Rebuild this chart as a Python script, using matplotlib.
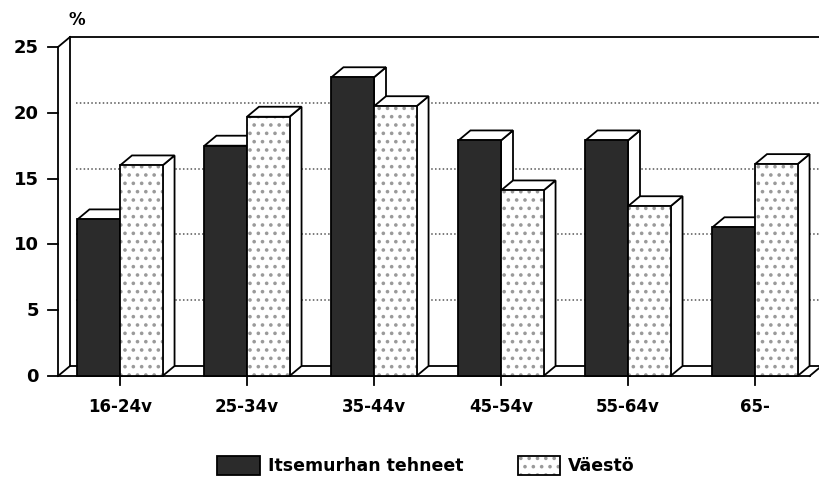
import numpy as np
import matplotlib.pyplot as plt
from matplotlib.patches import Polygon, Rectangle

plt.rcParams['font.family'] = ['DejaVu Sans']
plt.rcParams['font.weight'] = 'bold'
plt.rcParams['hatch.linewidth'] = 1.4

categories = ['16-24v', '25-34v', '35-44v', '45-54v', '55-64v', '65-']
itsemurhan = [11.9, 17.5, 22.7, 17.9, 17.9, 11.3]
vaesto = [16.0, 19.7, 20.5, 14.1, 12.9, 16.1]
yticks = [0, 5, 10, 15, 20, 25]
series_names = ['Itsemurhan tehneet', 'Väestö']

DARK = '#2b2b2b'
DOTS = '#9a9a9a'
bar_w = 0.335
dx, dy = 0.0945, 0.76       # oblique depth offset
lw = 1.3


def face(ax, pts, fc, z, hatch=None):
    if hatch:
        ax.add_patch(Polygon(pts, closed=True, facecolor='white', edgecolor=DOTS,
                             linewidth=0, hatch=hatch, zorder=z))
        ax.add_patch(Polygon(pts, closed=True, fill=False, edgecolor='black',
                             linewidth=lw, zorder=z + 0.01))
    else:
        ax.add_patch(Polygon(pts, closed=True, facecolor=fc, edgecolor='black',
                             linewidth=lw, zorder=z))


def bar3d(ax, x0, h, fc, z, hatch=None):
    x1 = x0 + bar_w
    side = [(x1, 0), (x1, h), (x1 + dx, h + dy), (x1 + dx, dy)]
    top = [(x0, h), (x0 + dx, h + dy), (x1 + dx, h + dy), (x1, h)]
    front = [(x0, 0), (x0, h), (x1, h), (x1, 0)]
    face(ax, side, 'white', z)
    face(ax, top, 'white', z + 0.02)
    face(ax, front, fc, z + 0.04, hatch)


fig = plt.figure(figsize=(8.2, 4.85), dpi=100)
ax = fig.add_axes([0, 0, 1, 1])
ax.set_xlim(-120 / 127, 700 / 127)
ax.set_ylim(-108 / 13.16, 377 / 13.16)
ax.axis('off')

xl, xr = -0.488, 5.43          # front axis and floor end
ymax = yticks[-1]

# back wall, floor and front axis
ax.plot([xl + dx, xl + dx], [dy, ymax + dy], color='black', lw=lw, zorder=1)
ax.plot([xl + dx, 6.0], [ymax + dy, ymax + dy], color='black', lw=lw, zorder=1)
ax.plot([xl, xl], [0, ymax], color='black', lw=lw, zorder=1)
ax.plot([xl, xl + dx], [ymax, ymax + dy], color='black', lw=lw, zorder=1)
ax.plot([xl, xr], [0, 0], color='black', lw=lw, zorder=1)
ax.plot([xl + dx, xr + dx], [dy, dy], color='black', lw=lw, zorder=1)
ax.plot([xl, xl + dx], [0, dy], color='black', lw=lw, zorder=1)
ax.plot([xr, xr + dx], [0, dy], color='black', lw=lw, zorder=1)

for t in yticks:
    ax.plot([xl - 0.08, xl], [t, t], color='black', lw=lw, zorder=1)
    ax.text(xl - 0.15, t, str(t), ha='right', va='center', fontsize=13,
            fontweight='bold')
    if 0 < t < ymax:
        ax.plot([xl + dx + 0.05, 6.0], [t + dy, t + dy], color='#555555',
                lw=1.1, ls=(0, (1, 1.5)), zorder=0.5)
ax.text(xl + 0.15, 27.1, '%', ha='center', va='center', fontsize=12,
        fontweight='bold')

# bars
for i, (a, b) in enumerate(zip(itsemurhan, vaesto)):
    bar3d(ax, i - bar_w, a, DARK, 2 + i)
    bar3d(ax, i, b, 'white', 2.5 + i, hatch='..')
    ax.plot([i, i], [0, -0.65], color='black', lw=lw, zorder=1)
    ax.text(i, -2.3, categories[i], ha='center', va='center', fontsize=12,
            fontweight='bold')

# legend
ly = -6.8
lh = 19 / 13.16
ax.add_patch(Rectangle(((217 - 120) / 127, ly - lh / 2), 43 / 127, lh,
                       facecolor=DARK, edgecolor='black', lw=lw))
ax.text((268 - 120) / 127, ly, series_names[0], ha='left', va='center',
        fontsize=12.5, fontweight='bold')
ax.add_patch(Rectangle(((518 - 120) / 127, ly - lh / 2), 42 / 127, lh,
                       facecolor='white', edgecolor=DOTS, lw=0, hatch='..'))
ax.add_patch(Rectangle(((518 - 120) / 127, ly - lh / 2), 42 / 127, lh,
                       fill=False, edgecolor='black', lw=lw))
ax.text((568 - 120) / 127, ly, series_names[1], ha='left', va='center',
        fontsize=12.5, fontweight='bold')

fig.savefig('out.png', dpi=100, facecolor='white')
